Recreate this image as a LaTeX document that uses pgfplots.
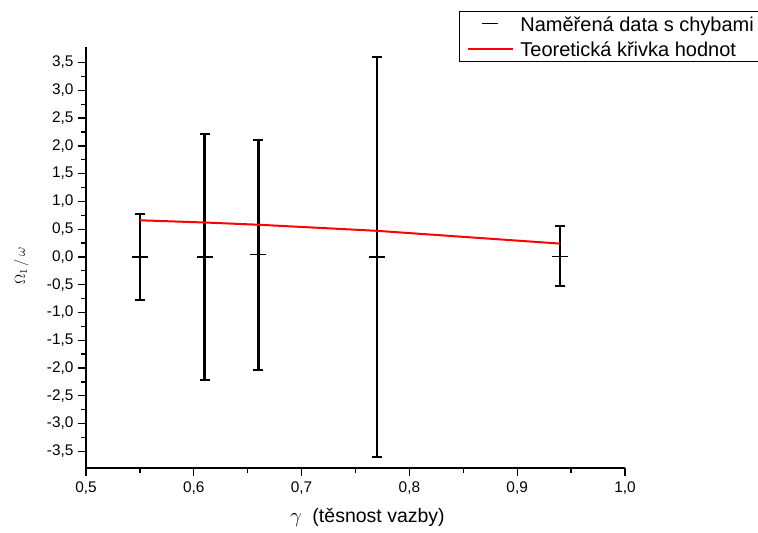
\documentclass[border=0pt]{standalone}
\usepackage{pgfplots}
\pgfplotsset{compat=1.18}
\usepackage{fontspec}
\setmainfont{Liberation Sans}
\begin{document}
\begin{tikzpicture}
\path[use as bounding box] (0,0) rectangle (758pt,533pt);
\begin{axis}[
  at={(86pt,65pt)}, anchor=south west,
  scale only axis, width=539pt, height=421pt,
  xmin=0.5, xmax=1.0, ymin=-3.8, ymax=3.78,
  axis x line*=bottom, axis y line*=left,
  axis line style={-, line width=1.6pt, black},
  xtick={0.5,0.6,...,1.0}, minor x tick num=1,
  ytick={-3.5,-3,...,3.5}, minor y tick num=1,
  tick align=outside,
  major tick length=8pt, minor tick length=4.5pt,
  tick style={line width=1.3pt, black},
  /pgf/number format/assume math mode=true,
  /pgf/number format/use comma,
  /pgf/number format/fixed,
  /pgf/number format/fixed zerofill,
  /pgf/number format/precision=1,
  ticklabel style={font=\fontsize{15.4}{18}\selectfont},
  xticklabel style={yshift=-2pt},
  yticklabel style={xshift=-1pt},
  xlabel={$\gamma$\ \ (těsnost vazby)},
  ylabel={$\Omega_{1}\,/\,\omega$},
  xlabel style={font=\fontsize{19.5}{23}\selectfont,
    at={(axis description cs:0.522,-0.1306)}, anchor=base},
  ylabel style={font=\fontsize{15.5}{18}\selectfont,
    at={(axis description cs:-0.12,0.48)}, anchor=center},
  legend style={at={(axis description cs:0.692,1.0862)}, anchor=north west,
    draw=black, line width=0.8pt, inner xsep=8pt, inner ysep=2pt,
    font=\fontsize{20}{24}\selectfont,
    nodes={inner sep=0pt, text height=18pt, text depth=3pt, anchor=west},
    /tikz/column 1/.style={column sep=6pt},
    row sep=4pt},
  clip=false,
]
\addplot[black, line width=2.2pt, mark=-, mark size=8pt,
  mark options={line width=1.5pt},
  legend image code/.code={\path[draw=none] (0pt,0pt) -- (45pt,0pt);
    \draw[black, line width=1.5pt] (14pt,0pt) -- (30pt,0pt);},
  error bars/.cd, y dir=both, y explicit,
  error bar style={line width=2.2pt, black},
  error mark options={black, rotate=90, mark size=5pt, line width=2pt},
  ] table[x=x, y=y, y error=e, only marks] {
x y e
0.55 0.00 0.78
0.61 0.00 2.22
0.66 0.04 2.07
0.77 0.00 3.60
0.94 0.01 0.54
};
\addlegendentry{Naměřená data s chybami}
\addplot[red, line width=2pt, mark=none,
  legend image code/.code={\draw[red, line width=2pt] (0pt,0pt) -- (45pt,0pt);},
  ] table[x=x, y=y] {
x y
0.55 0.66
0.61 0.62
0.66 0.58
0.77 0.47
0.94 0.24
};
\addlegendentry{Teoretická křivka hodnot}
\end{axis}
\end{tikzpicture}
\end{document}
